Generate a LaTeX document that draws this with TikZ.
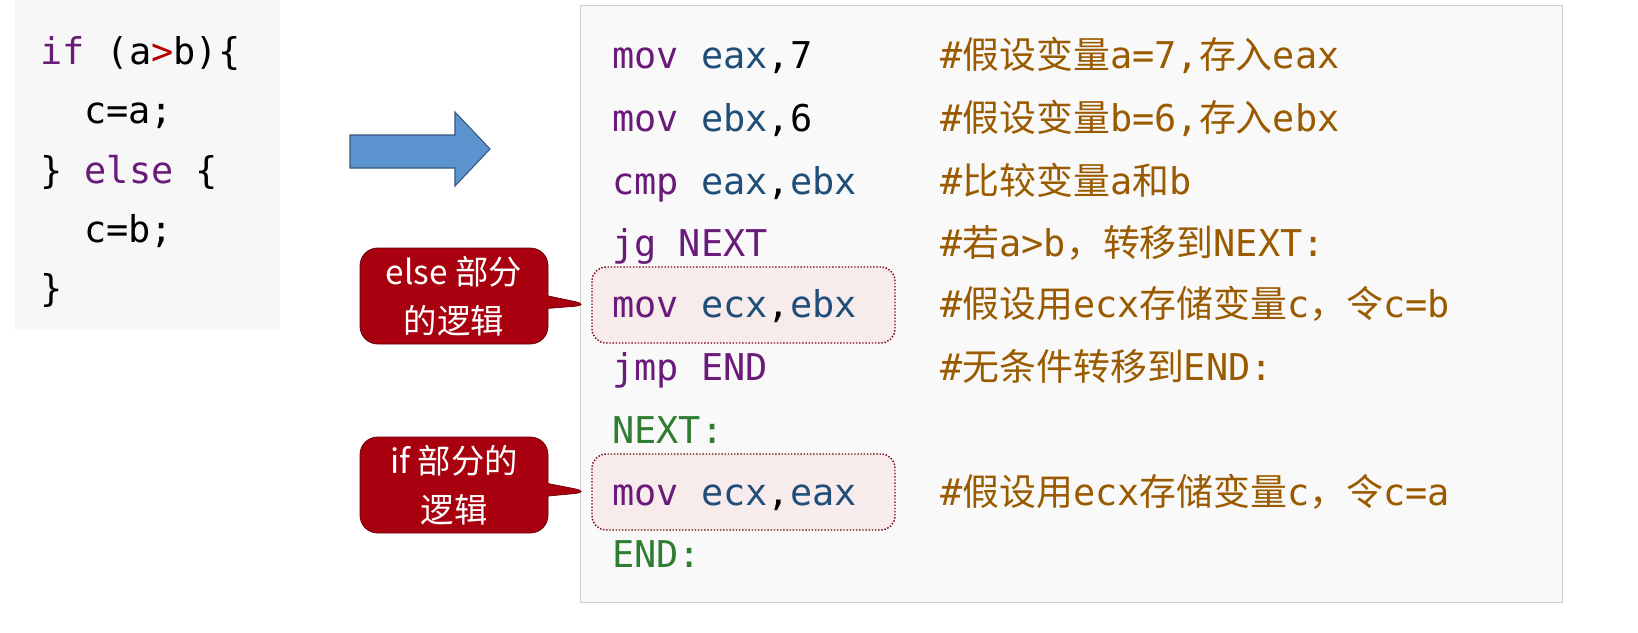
\documentclass[tikz,border=0pt]{standalone}
\usepackage{fontspec}
\setmonofont{DejaVu Sans Mono}
\newfontfamily\cjk{Noto Sans CJK SC}
\usetikzlibrary{shapes.callouts}
\definecolor{kw}{HTML}{6A1B7A}
\definecolor{rg}{HTML}{1F4E79}
\definecolor{cm}{HTML}{9A5B00}
\definecolor{lb}{HTML}{2E7D32}
\definecolor{cr}{HTML}{A8000E}
\definecolor{ab}{HTML}{5B93CF}
\newlength\pxu \setlength\pxu{0.02cm}
\tikzset{code/.style={anchor=base west,inner sep=0,font=\ttfamily\fontsize{21}{24}\selectfont},
cmt/.style={code,text=cm},
hl/.style={draw=cr!70!black,densely dotted,fill=cr!8,rounded corners=8pt,line width=0.8pt},
call/.style={rectangle callout,fill=cr,draw=cr!60!black,rounded corners=10pt,text=white,align=center,font=\cjk\fontsize{19}{28}\selectfont,minimum width=188\pxu,minimum height=96\pxu,inner sep=0}}
\begin{document}
\begin{tikzpicture}[x=0.02cm,y=-0.02cm]
\fill[gray!6] (15,0) rectangle (280,330);
\fill[gray!5,draw=gray!40] (580,5) rectangle (1562,602);
\node[code] (l1) at (40,64) {\textcolor{kw}{if} (a\textcolor{red!70!black}{>}b)\{};
\node[code] (l2) at (84,123) {c=a;};
\node[code] (l3) at (40,183) {\} \textcolor{kw}{else} \{};
\node[code] (l4) at (84,242) {c=b;};
\node[code] (l5) at (40,301) {\}};
\filldraw[fill=ab,draw=ab!60!black,line width=0.6pt] (350,135) -- (455,135) -- (455,112) -- (490,149) -- (455,186) -- (455,168) -- (350,168) -- cycle;
\node[hl,minimum width=303\pxu,minimum height=76\pxu] (h1) at (743.5,305) {};
\node[hl,minimum width=303\pxu,minimum height=76\pxu] (h2) at (743.5,492) {};
\node[call,callout absolute pointer={(h1.west)}] (c1) at (454,296) {else 部分\\的逻辑};
\node[call,callout absolute pointer={(h2.west)}] (c2) at (454,485) {if 部分的\\逻辑};
\node[code] (r1) at (612,68) {\textcolor{kw}{mov} \textcolor{rg}{eax},7};
\node[code] (r2) at (612,131) {\textcolor{kw}{mov} \textcolor{rg}{ebx},6};
\node[code] (r3) at (612,194) {\textcolor{kw}{cmp} \textcolor{rg}{eax},\textcolor{rg}{ebx}};
\node[code,text=kw] (r4) at (612,256) {jg NEXT};
\node[code] (r5) at (612,317) {\textcolor{kw}{mov} \textcolor{rg}{ecx},\textcolor{rg}{ebx}};
\node[code,text=kw] (r6) at (612,380) {jmp END};
\node[code,text=lb] (r7) at (612,443) {NEXT:};
\node[code] (r8) at (612,505) {\textcolor{kw}{mov} \textcolor{rg}{ecx},\textcolor{rg}{eax}};
\node[code,text=lb] (r9) at (612,567) {END:};
\node[cmt] (k1) at (940,68) {\#{\cjk 假设变量}a=7,{\cjk 存入}eax};
\node[cmt] (k2) at (940,131) {\#{\cjk 假设变量}b=6,{\cjk 存入}ebx};
\node[cmt] (k3) at (940,194) {\#{\cjk 比较变量}a{\cjk 和}b};
\node[cmt] (k4) at (940,256) {\#{\cjk 若}a>b{\cjk ，转移到}NEXT:};
\node[cmt] (k5) at (940,317) {\#{\cjk 假设用}ecx{\cjk 存储变量}c{\cjk ，令}c=b};
\node[cmt] (k6) at (940,380) {\#{\cjk 无条件转移到}END:};
\node[cmt] (k8) at (940,505) {\#{\cjk 假设用}ecx{\cjk 存储变量}c{\cjk ，令}c=a};
\pgfresetboundingbox
\useasboundingbox (0,0) rectangle (1638,632);
\end{tikzpicture}
\end{document}
